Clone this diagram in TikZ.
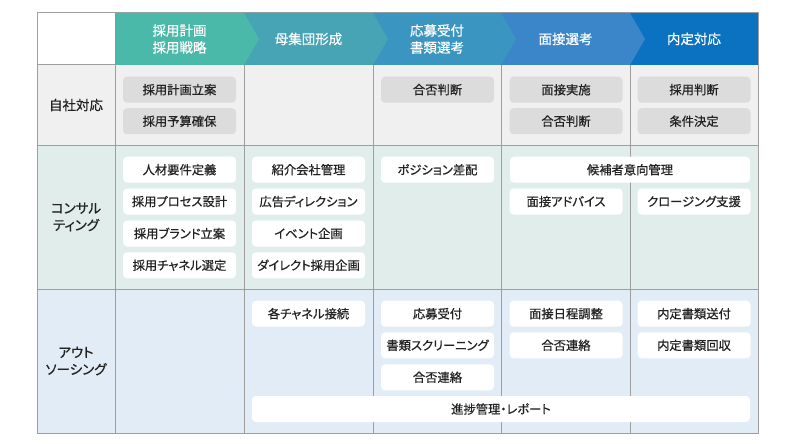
\documentclass[tikz,border=0pt]{standalone}
\usepackage{fontspec}
\setmainfont{Noto Sans CJK JP}[FakeBold=0.6, RawFeature=+palt]
\definecolor{hA}{HTML}{4BB9A9}
\definecolor{hB}{HTML}{47A4B5}
\definecolor{hC}{HTML}{3A95C1}
\definecolor{hD}{HTML}{3A86C8}
\definecolor{hE}{HTML}{0A72C0}
\definecolor{rowA}{HTML}{F0F0F0}
\definecolor{rowB}{HTML}{E0EDEB}
\definecolor{rowC}{HTML}{E2ECF6}
\definecolor{boxg}{HTML}{DCDCDC}
\definecolor{gridc}{HTML}{9E9E9E}
\definecolor{txt}{HTML}{222222}
\tikzset{
  cellbox/.style={rounded corners=4pt, minimum height=26pt, minimum width=113pt,
    inner sep=0pt, text=txt, font=\fontsize{12.3}{14}\selectfont},
  graybox/.style={cellbox, fill=boxg},
  whitebox/.style={cellbox, fill=white},
  headtext/.style={text=white, align=center, font=\fontsize{13.5}{17}\selectfont},
  rowlabel/.style={text=txt, align=center, font=\fontsize{13.5}{17}\selectfont},
  gridline/.style={draw=gridc, line width=1pt}
}
\begin{document}
\begin{tikzpicture}[x=1pt,y=-1pt]
\useasboundingbox (0,0) rectangle (792,444);
% row backgrounds
\fill[white] (37,13) rectangle (115,65);
\fill[rowA] (37,65) rectangle (758,145);
\fill[rowB] (37,145) rectangle (758,289);
\fill[rowC] (37,289) rectangle (758,433);
% grid
\draw[gridline] (37,13) rectangle (758,433);
\foreach \x in {115,244,373,501,630} \draw[gridline] (\x,65) -- (\x,433);
\draw[gridline] (115,13) -- (115,65);
\foreach \y in {65,145,289} \draw[gridline] (37,\y) -- (758,\y);
% header chevrons (right to left)
\fill[hE] (630,13) rectangle (758,65);
\fill[hD] (501,13) -- (630,13) -- (645,39) -- (630,65) -- (501,65) -- cycle;
\fill[hC] (373,13) -- (501,13) -- (516,39) -- (501,65) -- (373,65) -- cycle;
\fill[hB] (244,13) -- (373,13) -- (388,39) -- (373,65) -- (244,65) -- cycle;
\fill[hA] (115,13) -- (244,13) -- (259,39) -- (244,65) -- (115,65) -- cycle;
% header texts
\node[headtext] (h1) at (179.5,39) {採用計画\\採用戦略};
\node[headtext] (h2) at (308.5,39) {母集団形成};
\node[headtext] (h3) at (437,39) {応募受付\\書類選考};
\node[headtext] (h4) at (565.5,39) {面接選考};
\node[headtext] (h5) at (694,39) {内定対応};
% row labels
\node[rowlabel] (r1) at (76,105) {自社対応};
\node[rowlabel] (r2) at (76,217) {コンサル\\ティング};
\node[rowlabel] (r3) at (76,361) {アウト\\ソーシング};
% row 1
\node[graybox] (a1) at (179.5,89.7) {採用計画立案};
\node[graybox] (a2) at (179.5,121.2) {採用予算確保};
\node[graybox] (a3) at (437.5,89.7) {合否判断};
\node[graybox] (a4) at (566,89.7) {面接実施};
\node[graybox] (a5) at (566,121.2) {合否判断};
\node[graybox] (a6) at (694,89.7) {採用判断};
\node[graybox] (a7) at (694,121.2) {条件決定};
% row 2
\node[whitebox] (b1) at (179.5,169.7) {人材要件定義};
\node[whitebox] (b2) at (179.5,201.5) {採用プロセス設計};
\node[whitebox] (b3) at (179.5,233.5) {採用ブランド立案};
\node[whitebox] (b4) at (179.5,265.3) {採用チャネル選定};
\node[whitebox] (b5) at (308.5,169.7) {紹介会社管理};
\node[whitebox] (b6) at (308.5,201.5) {広告ディレクション};
\node[whitebox] (b7) at (308.5,233.5) {イベント企画};
\node[whitebox] (b8) at (308.5,265.3) {ダイレクト採用企画};
\node[whitebox] (b9) at (437.5,169.7) {ポジション差配};
\node[whitebox, minimum width=240pt] (b10) at (630,169.7) {候補者意向管理};
\node[whitebox] (b11) at (566,201.5) {面接アドバイス};
\node[whitebox] (b12) at (694,201.5) {クロージング支援};
% row 3
\node[whitebox] (c1) at (308.5,313.7) {各チャネル接続};
\node[whitebox] (c2) at (437.5,313.7) {応募受付};
\node[whitebox] (c3) at (437.5,345.3) {書類スクリーニング};
\node[whitebox] (c4) at (437.5,377.3) {合否連絡};
\node[whitebox] (c5) at (566,313.7) {面接日程調整};
\node[whitebox] (c6) at (566,345.3) {合否連絡};
\node[whitebox] (c7) at (694,313.7) {内定書類送付};
\node[whitebox] (c8) at (694,345.3) {内定書類回収};
\node[whitebox, minimum width=498pt] (c9) at (501,409) {進捗管理・レポート};
\end{tikzpicture}
\end{document}
